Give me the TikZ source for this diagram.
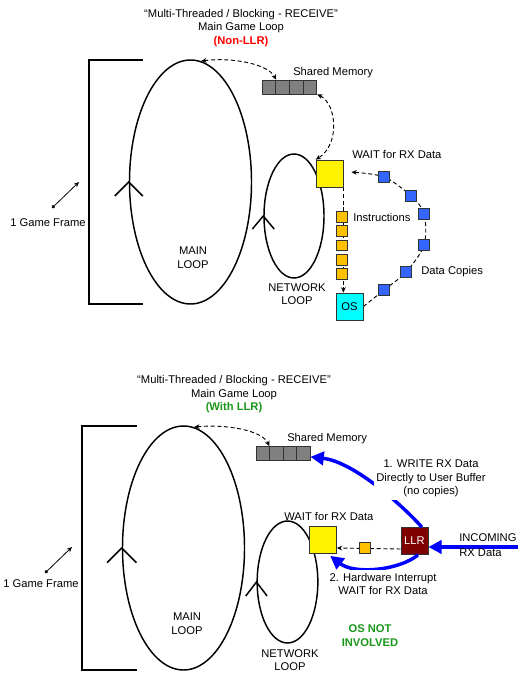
\documentclass[tikz,border=0pt]{standalone}
\usepackage{fontspec}
\setmainfont{Liberation Sans}
\usetikzlibrary{shapes.geometric,arrows.meta,backgrounds}
\definecolor{instrc}{HTML}{FFC000}
\definecolor{copyc}{HTML}{3366FF}
\definecolor{llrc}{HTML}{7F0000}
\definecolor{osc}{HTML}{00FFFF}
\definecolor{greentxt}{HTML}{1A961A}
\definecolor{edgec}{HTML}{333333}
\tikzset{smalltip/.tip={Stealth[length=4pt,width=3.5pt]}}
\begin{document}
\begin{tikzpicture}[x=0.75pt,y=-0.75pt,
  font=\fontsize{8.4}{10.1}\selectfont,
  loopshape/.style={draw, ellipse, line width=1.1pt, inner sep=0pt},
  chev/.style={line width=1.1pt},
  bracket/.style={line width=2.2pt},
  memcell/.style={draw=edgec, fill=gray, minimum width=10.2pt, minimum height=10.4pt, inner sep=0pt, line width=0.6pt},
  waitbox/.style={draw=edgec, fill=yellow, minimum size=20.2pt, inner sep=0pt, line width=0.6pt},
  instrbox/.style={draw=edgec, fill=instrc, minimum size=8pt, inner sep=0pt, line width=0.6pt},
  copybox/.style={draw=edgec, fill=copyc, minimum size=8pt, inner sep=0pt, line width=0.6pt},
  osbox/.style={draw=edgec, fill=osc, minimum size=20.2pt, inner sep=0pt, line width=0.6pt},
  llrbox/.style={draw=edgec, fill=llrc, text=white, minimum size=20.2pt, inner sep=0pt, line width=0.6pt},
  dline/.style={dashed, dash pattern=on 3pt off 2pt, line width=0.7pt},
  bluearrow/.style={draw=blue, line width=2.6pt, -{Triangle[length=10pt,width=10pt]}},
  lbl/.style={inner sep=0pt}
]
\useasboundingbox (0,0) rectangle (518,673);

%% ================= TOP DIAGRAM =================
\node[lbl, align=center] (title1) at (241,28) {“Multi-Threaded / Blocking - RECEIVE”\\Main Game Loop\\{\color{red}\bfseries (Non-LLR)}};

\draw[bracket] (143,60) -| (89,304) -- (143,304);
\node[lbl, anchor=west] (gf1) at (10,223) {1 Game Frame};
\coordinate (gfa1) at (52,208);
\coordinate (gfb1) at (79,182);
\draw[line width=0.6pt, {Circle[length=2.6pt]}-{smalltip}] (gfa1) -- (gfb1);

\node[loopshape, minimum width=91.5pt, minimum height=183pt] (main1) at (190.5,182) {};
\draw[chev] ([xshift=-10.5pt,yshift=-10.5pt]main1.west) -- (main1.west) -- ([xshift=10.5pt,yshift=-10.5pt]main1.west);
\node[lbl, align=center] (ml1) at (193,257.5) {MAIN\\LOOP};

\node[loopshape, minimum width=45pt, minimum height=93pt] (net1) at (294,216) {};
\draw[chev] ([xshift=-8.2pt,yshift=-9.8pt]net1.west) -- (net1.west) -- ([xshift=8.2pt,yshift=-9.8pt]net1.west);
\node[lbl, align=center] (nl1) at (297,294) {NETWORK\\LOOP};

\node[memcell] (sma1) at (268.9,87) {};
\node[memcell] (sma2) at (282.6,87) {};
\node[memcell] (sma3) at (296.3,87) {};
\node[memcell] (sma4) at (310.0,87) {};
\node[lbl, anchor=west] (smt1) at (293,73) {Shared Memory};

\node[waitbox] (wait1) at (329.5,173.5) {};
\node[lbl, anchor=west] (wt1) at (352,155) {WAIT for RX Data};

\node[osbox] (os) at (349.5,306.5) {OS};

\draw[dline, {smalltip}-{smalltip}] (main1.85) .. controls (232,57) and (268,64) .. (sma1.north east);
\draw[dline, {smalltip}-{smalltip}] (sma4.south east) .. controls (337,104) and (340,145) .. (wait1.north west);

\begin{scope}[on background layer]
\draw[dline, -{smalltip}] (wait1.south east) -- (wait1.south east |- os.north);
\end{scope}
\node[instrbox] (i1) at (342,217) {};
\node[instrbox] (i2) at (342,231) {};
\node[instrbox] (i3) at (342,245.5) {};
\node[instrbox] (i4) at (342,260) {};
\node[instrbox] (i5) at (342,274) {};
\node[lbl, anchor=west] (it) at (353,217) {Instructions};

\node[copybox] (b1) at (384,177) {};
\node[copybox] (b2) at (411,196) {};
\node[copybox] (b3) at (424,214) {};
\node[copybox] (b4) at (424,245) {};
\node[copybox] (b5) at (406,272) {};
\node[copybox] (b6) at (384,290) {};
\node[lbl, anchor=west] (dc) at (421,272) {Data Copies};
\coordinate (ctip) at ([xshift=6pt,yshift=1pt]wait1.east);
\begin{scope}[on background layer]
\draw[dline, -{smalltip}] plot[smooth, tension=0.55] coordinates {(os.east) (b6.center) (b5.center) (b4.center) (b3.center) (b2.center) (b1.center) (ctip)};
\end{scope}

%% ================= BOTTOM DIAGRAM =================
\node[lbl, align=center] (title2) at (234,394.5) {“Multi-Threaded / Blocking - RECEIVE”\\Main Game Loop\\{\color{greentxt}\bfseries (With LLR)}};

\draw[bracket] (137,426) -| (82,670) -- (137,670);
\node[lbl, anchor=west] (gf2) at (3,584) {1 Game Frame};
\coordinate (gfa2) at (45,573);
\coordinate (gfb2) at (72,547);
\draw[line width=0.6pt, {Circle[length=2.6pt]}-{smalltip}] (gfa2) -- (gfb2);

\node[loopshape, minimum width=91.5pt, minimum height=183pt] (main2) at (183.5,548) {};
\draw[chev] ([xshift=-11pt,yshift=-11pt]main2.west) -- (main2.west) -- ([xshift=11pt,yshift=-11pt]main2.west);
\node[lbl, align=center] (ml2) at (187,623.5) {MAIN\\LOOP};

\node[loopshape, minimum width=45.5pt, minimum height=91.5pt] (net2) at (287.5,582) {};
\draw[chev] ([xshift=-8pt,yshift=-10.5pt]net2.west) -- (net2.west) -- ([xshift=8pt,yshift=-10.5pt]net2.west);
\node[lbl, align=center] (nl2) at (290,660) {NETWORK\\LOOP};

\node[memcell] (smb1) at (262.75,453.5) {};
\node[memcell] (smb2) at (276.25,453.5) {};
\node[memcell] (smb3) at (289.75,453.5) {};
\node[memcell] (smb4) at (303.25,453.5) {};
\node[lbl, anchor=west] (smt2) at (287,439) {Shared Memory};

\draw[dline, {smalltip}-{smalltip}] (main2.85) .. controls (225,424) and (262,430) .. ([xshift=-0.5pt]smb1.north east);

\node[waitbox] (wait2) at (323,540) {};
\node[lbl, anchor=west] (wt2) at (284,516) {WAIT for RX Data};

\node[llrbox] (llr) at (414.5,541) {LLR};

\begin{scope}[on background layer]
\draw[dline, -{smalltip}] ([yshift=-6pt]llr.west) -- ([yshift=-6pt]wait2.east);
\end{scope}
\node[instrbox] (ib) at (365,548) {};

\coordinate (inc) at (518,547);
\draw[bluearrow] (inc) -- (llr.east |- inc);
\node[lbl, anchor=west] (inct) at (459,538) {INCOMING};
\node[lbl, anchor=west] (rxt) at (459,553) {RX Data};

\draw[bluearrow] ([xshift=5.5pt]llr.north) .. controls (405,508) and (355,462) .. ([yshift=-2.5pt]smb4.east);
\node[fill=white, inner sep=2pt, align=center] (w1) at (431,478.5) {1. WRITE RX Data\\Directly to User Buffer\\(no copies)};

\draw[bluearrow] ([xshift=2.6pt]llr.south) .. controls (400,570) and (355,575) .. ([xshift=-5pt,yshift=-1.5pt]wait2.south east);
\node[fill=white, inner sep=2.5pt, align=center] (w2) at (383,584) {2. Hardware Interrupt\\WAIT for RX Data};

\node[lbl, align=center, text=greentxt, font=\fontsize{8.4}{10.1}\selectfont\bfseries] (osn) at (370,635.5) {OS NOT\\INVOLVED};

\end{tikzpicture}
\end{document}
